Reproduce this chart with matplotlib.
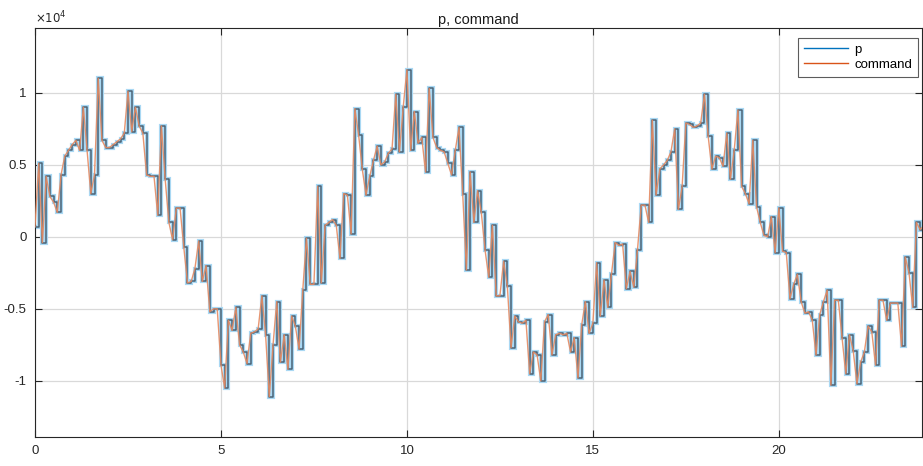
import numpy as np
import matplotlib
matplotlib.use("Agg")
import matplotlib.pyplot as plt

plt.rcParams['font.family'] = ['Liberation Sans', 'DejaVu Sans']

# sample period of the logged signals (s)
dt = 0.1

# position samples, in units of 1e4
p_vals = [
    0.07, 0.51, -0.04, 0.42, 0.28, 0.24, 0.17, 0.43, 0.56, 0.60,
    0.64, 0.67, 0.60, 0.90, 0.60, 0.30, 0.43, 1.10, 0.67, 0.62,
    0.62, 0.64, 0.66, 0.68, 0.72, 1.01, 0.73, 0.90, 0.77, 0.72,
    0.43, 0.42, 0.42, 0.15, 0.77, 0.40, 0.10, -0.02, 0.20, 0.20,
    -0.07, -0.32, -0.31, -0.22, -0.03, -0.31, -0.20, -0.52, -0.50, -0.50,
    -0.89, -1.05, -0.58, -0.65, -0.49, -0.75, -0.80, -0.88, -0.67, -0.66,
    -0.64, -0.41, -0.68, -1.11, -0.75, -0.45, -0.87, -0.68, -0.92, -0.55,
    -0.62, -0.78, -0.37, -0.01, -0.33, -0.33, 0.35, -0.32, 0.08, 0.10,
    0.12, 0.08, -0.15, 0.30, 0.29, 0.02, 0.89, 0.71, 0.47, 0.29,
    0.42, 0.53, 0.63, 0.50, 0.52, 0.58, 0.61, 0.99, 0.59, 0.90,
    1.16, 0.60, 0.87, 0.65, 0.69, 0.45, 1.03, 0.69, 0.62, 0.60,
    0.59, 0.51, 0.43, 0.60, 0.76, 0.30, -0.23, 0.45, 0.10, 0.32,
    0.17, -0.09, -0.28, 0.08, -0.41, -0.41, -0.17, -0.34, -0.77, -0.55,
    -0.59, -0.60, -0.58, -0.95, -0.80, -0.82, -1.00, -0.59, -0.54, -0.82,
    -0.68, -0.67, -0.68, -0.67, -0.80, -0.70, -0.98, -0.61, -0.45, -0.67,
    -0.60, -0.18, -0.55, -0.30, -0.49, -0.26, -0.04, -0.06, -0.05, -0.36,
    -0.24, -0.35, -0.09, 0.22, 0.22, 0.10, 0.81, 0.29, 0.47, 0.50,
    0.53, 0.59, 0.75, 0.19, 0.35, 0.79, 0.78, 0.76, 0.77, 0.79,
    0.99, 0.70, 0.47, 0.56, 0.55, 0.49, 0.72, 0.40, 0.60, 0.88,
    0.35, 0.30, 0.23, 0.67, 0.21, 0.10, 0.01, 0.00, 0.14, -0.11,
    0.20, -0.10, -0.11, -0.43, -0.33, -0.26, -0.45, -0.53, -0.52, -0.58,
    -0.82, -0.54, -0.45, -0.37, -1.03, -0.44, -0.44, -0.70, -0.95, -0.68,
    -0.79, -1.02, -0.87, -0.80, -0.62, -0.66, -0.89, -0.44, -0.44, -0.58,
    -0.46, -0.46, -0.46, -0.76, -0.14, -0.25, -0.49, 0.10, 0.05, 0.08,
]
# reference command, same samples
command_vals = list(p_vals)

x_ticks = [0, 5, 10, 15, 20]
y_ticks = [-1, -0.5, 0, 0.5, 1]
y_tick_labels = ['-1', '-0.5', '0', '0.5', '1']

t = np.arange(len(p_vals)) * dt

fig = plt.figure(figsize=(9.23, 4.66), dpi=100)
ax = fig.add_axes([35 / 923, 29 / 466, 887 / 923, 409 / 466])

# p drawn as a held (staircase) signal with a soft light-blue edge
ax.plot(t, p_vals, drawstyle='steps-post', color='#a9d8f3', lw=3.0,
        solid_joinstyle='miter', zorder=2)
ax.plot(t, p_vals, drawstyle='steps-post', color='#4b6376', lw=1.1,
        zorder=3, label='_nolegend_')
ax.plot(t, command_vals, color='#e58a62', lw=1.0, alpha=0.9, zorder=4)

# legend proxies
lp, = ax.plot([], [], color='#0072BD', lw=1.0, label='p')
lc, = ax.plot([], [], color='#D95319', lw=1.0, label='command')
leg = ax.legend(handles=[lp, lc], loc='upper right', fontsize=9.5,
                frameon=True, fancybox=False, edgecolor='#333333',
                handlelength=3.3, handletextpad=0.5, borderpad=0.45,
                labelspacing=0.2, borderaxespad=0,
                bbox_to_anchor=(0.9955, 0.976))
leg.get_frame().set_linewidth(0.8)

ax.set_xlim(0, 23.85)
ax.set_ylim(-1.39, 1.45)
ax.set_xticks(x_ticks)
ax.set_xticklabels([str(v) for v in x_ticks])
ax.set_yticks(y_ticks)
ax.set_yticklabels(y_tick_labels)
ax.tick_params(direction='in', length=5, width=0.8, colors='#262626',
               labelsize=9.5, top=True, right=True, pad=6)
ax.grid(True, color='#d9d9d9', lw=0.9)
ax.set_axisbelow(True)
for s in ax.spines.values():
    s.set_color('#262626')
    s.set_linewidth(0.8)

ax.text(0.0, 1.004, r'$\times 10^{4}$', transform=ax.transAxes,
        ha='left', va='bottom', fontsize=8.5, color='#262626')
ax.set_title('p, command', fontsize=10.5, color='#1a1a1a', pad=3)

fig.savefig('out.png', dpi=100, facecolor='white')
